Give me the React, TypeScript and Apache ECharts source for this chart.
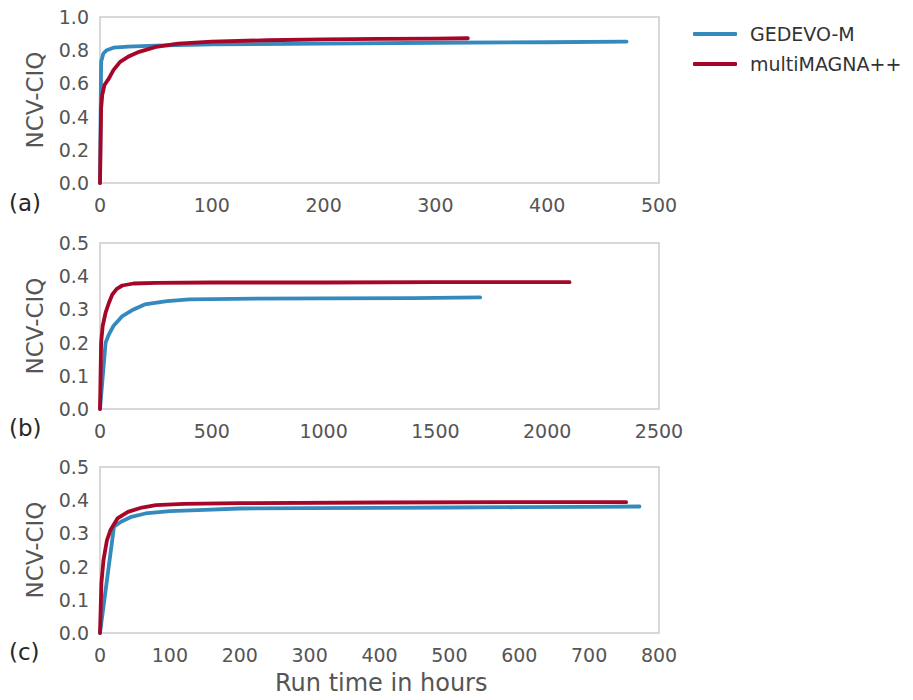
import React, { useEffect, useRef } from "react";
import * as echarts from "echarts";

// Panel (a)
const gedevoA: [number, number][] = [[0,0],[1,0.73],[3,0.78],[6,0.80],[12,0.815],[25,0.822],[50,0.828],[100,0.835],[200,0.84],[300,0.845],[400,0.848],[471,0.852]];
const magnaA: [number, number][] = [[0,0],[1,0.45],[2,0.53],[4,0.59],[8,0.63],[12,0.68],[18,0.73],[25,0.76],[35,0.79],[50,0.82],[70,0.84],[100,0.852],[150,0.86],[200,0.865],[250,0.868],[300,0.87],[329,0.872]];
// Panel (b)
const gedevoB: [number, number][] = [[0,0],[25,0.2],[40,0.225],[60,0.25],[100,0.28],[150,0.3],[200,0.315],[300,0.325],[400,0.33],[600,0.332],[1000,0.333],[1400,0.334],[1700,0.336]];
const magnaB: [number, number][] = [[0,0],[5,0.2],[12,0.25],[25,0.29],[40,0.32],[55,0.345],[75,0.362],[100,0.372],[150,0.378],[250,0.38],[500,0.381],[1000,0.381],[1500,0.382],[2100,0.382]];
// Panel (c)
const gedevoC: [number, number][] = [[0,0],[20,0.32],[30,0.335],[45,0.35],[65,0.36],[100,0.367],[150,0.371],[200,0.375],[300,0.376],[400,0.377],[500,0.378],[600,0.379],[700,0.38],[772,0.381]];
const magnaC: [number, number][] = [[0,0],[2,0.15],[5,0.22],[10,0.28],[15,0.31],[25,0.345],[40,0.365],[60,0.378],[80,0.385],[120,0.389],[200,0.391],[400,0.393],[600,0.394],[753,0.394]];

const seriesNames = ["GEDEVO-M", "multiMAGNA++"];
const panelLabels = ["(a)", "(b)", "(c)"];
const xMax = [500, 2500, 800];
const xInterval = [100, 500, 100];
const yMax = [1.0, 0.5, 0.5];
const yInterval = [0.2, 0.1, 0.1];
const yTitle = "NCV-CIQ";
const xTitle = "Run time in hours";

const BLUE = "#348ABD";
const RED = "#A60628";
const FONT = "DejaVu Sans";

export default function App() {
  const ref = useRef<HTMLDivElement>(null);
  useEffect(() => {
    if (!ref.current) return;
    const chart = echarts.init(ref.current, undefined, { renderer: "svg" });
    const tops = [17, 243, 467];
    const h = 166;
    const grids = tops.map((t) => ({
      left: 100,
      width: 559,
      top: t,
      height: h,
      show: true,
      borderColor: "#cccccc",
      borderWidth: 1.5,
      backgroundColor: "#ffffff",
    }));
    const xAxes = [0, 1, 2].map((i) => ({
      type: "value",
      gridIndex: i,
      min: 0,
      max: xMax[i],
      interval: xInterval[i],
      axisLine: { show: false },
      axisTick: { show: false },
      splitLine: { show: false },
      axisLabel: {
        color: "#555555",
        fontSize: 19,
        fontFamily: FONT,
        margin: 12,
        formatter: (v: number) => String(v),
      },
    }));
    const yAxes = [0, 1, 2].map((i) => ({
      type: "value",
      gridIndex: i,
      min: 0,
      max: yMax[i],
      interval: yInterval[i],
      name: yTitle,
      nameLocation: "middle",
      nameGap: 54,
      nameTextStyle: { color: "#555555", fontSize: 23, fontFamily: FONT },
      axisLine: { show: false },
      axisTick: { show: false },
      splitLine: { show: false },
      axisLabel: {
        color: "#555555",
        fontSize: 19,
        fontFamily: FONT,
        margin: 11,
        formatter: (v: number) => v.toFixed(1),
      },
    }));
    const data = [
      [gedevoA, magnaA],
      [gedevoB, magnaB],
      [gedevoC, magnaC],
    ];
    const series: any[] = [];
    data.forEach((pair, i) => {
      pair.forEach((d, j) => {
        series.push({
          type: "line",
          name: seriesNames[j],
          xAxisIndex: i,
          yAxisIndex: i,
          data: d,
          showSymbol: false,
          symbol: "none",
          lineStyle: { width: 3.8, color: j === 0 ? BLUE : RED, cap: "round", join: "round" },
          itemStyle: { color: j === 0 ? BLUE : RED },
          z: j + 2,
        });
      });
    });
    chart.setOption({
      animation: false,
      grid: grids,
      xAxis: xAxes,
      yAxis: yAxes,
      series,
      legend: {
        left: 693,
        top: 23,
        padding: 0,
        orient: "vertical",
        data: seriesNames,
        icon: "roundRect",
        itemWidth: 44,
        itemHeight: 4,
        itemGap: 8,
        textStyle: { color: "#333333", fontSize: 19, fontFamily: FONT, padding: [0, 0, 0, 8], lineHeight: 22 },
      },
      graphic: [
        ...panelLabels.map((t, i) => ({
          type: "text",
          left: 9,
          top: [191, 416, 640][i],
          style: { text: t, fontSize: 23, fontFamily: FONT, fill: "#262626" },
        })),
        {
          type: "text",
          left: 275,
          top: 671,
          style: { text: xTitle, fontSize: 24, fontFamily: FONT, fill: "#555555" },
        },
      ],
    });
    return () => chart.dispose();
  }, []);
  return <div ref={ref} style={{ width: 913, height: 700, margin: -8 }} />;
}
